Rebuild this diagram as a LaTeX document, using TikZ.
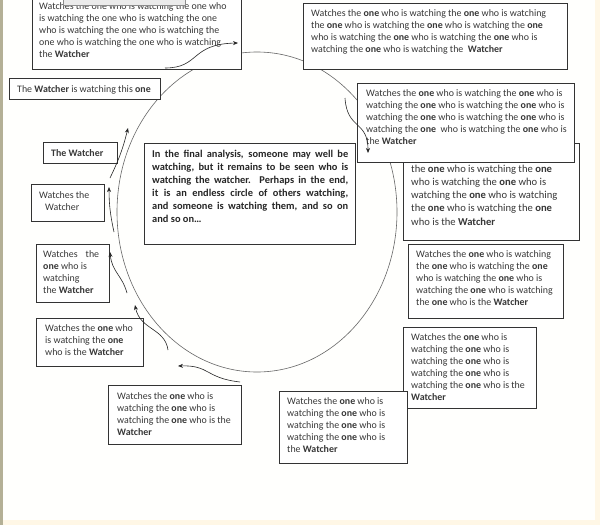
\documentclass[tikz,border=0pt]{standalone}
\usepackage{fontspec}
\usetikzlibrary{arrows.meta}
\setmainfont{Carlito}
\definecolor{paper}{RGB}{255,255,253}
\definecolor{cream}{RGB}{255,247,230}
\definecolor{edge}{RGB}{180,176,150}
\definecolor{ink}{RGB}{55,55,55}
\newcommand{\oneb}{\textbf{one}}
\newcommand{\watcherb}{\textbf{Watcher}}
\tikzset{
  pane/.style={draw=black!80,fill=white,line width=0.7pt,anchor=north west,inner sep=0pt},
  words/.style={anchor=north west,inner sep=0pt,align=left,text=ink,font=\fontsize{9.9}{12}\selectfont},
  ring/.style={draw=black!60,line width=0.6pt},
  hook/.style={->,draw=black!85,line width=0.6pt},
}
\begin{document}
\begin{tikzpicture}[x=1pt,y=-1pt,>={Stealth[length=5pt,width=4pt]}]
\useasboundingbox (0,0) rectangle (600,525);
% page
\fill[cream] (0,0) rectangle (600,525);
\fill[paper] (0,0) rectangle (595,520);
\fill[edge] (0,0) rectangle (2.5,525);

% the circle
\draw[ring] (257,212) ellipse [x radius=140pt, y radius=160pt];

% boxes round the circle
\node[pane,minimum width=209,minimum height=77] (tl) at (32,-8) {};
\node[words] (tltext) at (39,2) {Watches the one who is watching the one who\\is watching the one who is watching the one\\who is watching the one who is watching the\\one who is watching the one who is watching\\the \watcherb};
\node[pane,fill=black!8,draw=black!45,minimum width=122,minimum height=14] (cut) at (63,-9) {};

\node[pane,minimum width=264,minimum height=66] (tr) at (303,3) {};
\node[words] (trtext) at (311,9) {Watches the \oneb{} who is watching the \oneb{} who is watching\\the \oneb{} who is watching the \oneb{} who is watching the \oneb\\who is watching the \oneb{} who is watching the \oneb{} who is\\watching the \oneb{} who is watching the\ \ \watcherb};

\node[pane,minimum width=151,minimum height=21] (this) at (9,78) {};
\node[words] (thistext) at (17,85) {The \watcherb{} is watching this \oneb};

\node[pane,minimum width=176,minimum height=97] (back) at (403,143) {};
\node[words,font=\fontsize{10.6}{13.3}\selectfont] (backtext) at (411,164.5) {the \oneb{} who is watching the \oneb\\who is watching the \oneb{} who is\\watching the \oneb{} who is watching\\the \oneb{} who is watching the \oneb\\who is the \watcherb};

\node[pane,minimum width=217,minimum height=79] (five) at (357,83) {};
\node[words] (fivetext) at (366,89) {Watches the \oneb{} who is watching the \oneb{} who is\\watching the \oneb{} who is watching the \oneb{} who is\\watching the \oneb{} who is watching the \oneb{} who is\\watching the \oneb\ \ who is watching the \oneb{} who is\\the \watcherb};

\node[pane,minimum width=155,minimum height=74] (six) at (408,244) {};
\node[words] (sixtext) at (416,250) {Watches the \oneb{} who is watching\\the \oneb{} who is watching the \oneb\\who is watching the \oneb{} who is\\watching the \oneb{} who is watching\\the \oneb{} who is the \watcherb};

\node[pane,minimum width=133,minimum height=81] (seven) at (403,327) {};
\node[words] (seventext) at (411,333) {Watches the \oneb{} who is\\watching the \oneb{} who is\\watching the \oneb{} who is\\watching the \oneb{} who is\\watching the \oneb{} who is the\\\watcherb};

\node[pane,minimum width=128,minimum height=72] (eight) at (279,391) {};
\node[words] (eighttext) at (287,397) {Watches the \oneb{} who is\\watching the \oneb{} who is\\watching the \oneb{} who is\\watching the \oneb{} who is\\the \watcherb};

\node[pane,minimum width=133,minimum height=59] (nine) at (108,385) {};
\node[words] (ninetext) at (117,392) {Watches the \oneb{} who is\\watching the \oneb{} who is\\watching the \oneb{} who is the\\\watcherb};

\node[pane,minimum width=107,minimum height=48] (ten) at (36,318) {};
\node[words] (tentext) at (45,324) {Watches the \oneb{} who\\is watching the \oneb\\who is the \watcherb};

\node[pane,minimum width=73,minimum height=58] (eleven) at (36,244) {};
\node[words] (eleventext) at (43,250) {Watches\hspace{8pt}the\\\oneb{} who is\\watching\\the \watcherb};

\node[pane,minimum width=73,minimum height=37] (twelve) at (31,184) {};
\node[words] (twelvetext) at (39,191) {Watches the\\\hspace{6pt}Watcher};

\node[pane,minimum width=74,minimum height=21] (thirteen) at (43,142) {};
\node[words] (thirteentext) at (51,149) {\textbf{The Watcher}};

% the note in the middle
\node[pane,minimum width=211,minimum height=101] (note) at (144,143) {};
\node[words,text width=196pt,align=justify,text=black!85,font=\fontsize{10.4}{13}\selectfont\bfseries] (notetext) at (152,150) {In the final analysis, someone may well be\linebreak watching, but it remains to be seen who is\linebreak watching the watcher. Perhaps in the end,\linebreak it is an endless circle of others watching,\linebreak and someone is watching them, and so on\linebreak and so on\dots};

% little arrows
\coordinate (a1) at (165,68);
\coordinate (a2) at (238,43);
\coordinate (b1) at (110,178);
\coordinate (b2) at (128,128);
\coordinate (c1) at (114,232);
\coordinate (c2) at (109,187);
\coordinate (d1) at (127,293);
\coordinate (d2) at (110,252);
\coordinate (e1) at (168,350);
\coordinate (e2) at (135,305);
\coordinate (f1) at (240,382);
\coordinate (f2) at (178,366);
\coordinate (g1) at (345,98);
\coordinate (g2) at (368,153);

\draw[hook] (a1) .. controls (200,68) and (190,44) .. (a2);
\draw[hook] (b1) to[bend right=6] (b2);
\draw[hook] (c1) to[bend left=6] (c2);
\draw[hook] (d1) .. controls (122,275) and (112,272) .. (d2);
\draw[hook] (e1) .. controls (165,328) and (140,330) .. (e2);
\draw[hook] (f1) .. controls (205,378) and (210,365) .. (f2);
\draw[hook] (g1) .. controls (347,130) and (368,120) .. (g2);
\end{tikzpicture}
\end{document}
